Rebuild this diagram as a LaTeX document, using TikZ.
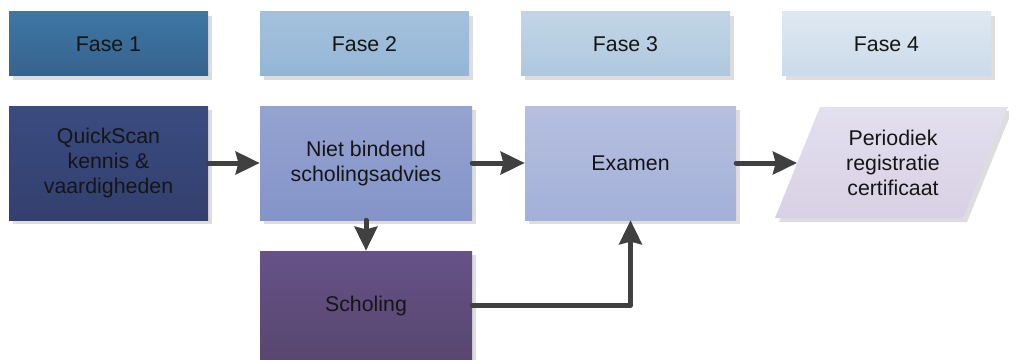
\documentclass[tikz,border=0pt]{standalone}
\usepackage{fontspec}
\setmainfont{Liberation Sans}
\usetikzlibrary{arrows.meta,shadows}
\definecolor{txt}{HTML}{151515}
\definecolor{arr}{HTML}{404040}
\definecolor{shd}{HTML}{DDDDDD}
\tikzset{
  box/.style={rectangle, inner sep=0pt, align=center, text=txt,
    font=\fontsize{16}{18.75}\selectfont,
    drop shadow={shadow xshift=3pt, shadow yshift=-3pt, fill=shd, opacity=1}},
  flow/.style={draw=arr, line width=3.75pt, line cap=round, line join=round,
    -{Stealth[length=18pt, width=17pt, inset=2pt]}},
}
\begin{document}
\begin{tikzpicture}[x=0.75pt, y=-0.75pt]
\useasboundingbox (0,0) rectangle (1009,360);
% phase headers
\node[box, minimum width=149.25pt, minimum height=48pt, top color={rgb,255:red,62;green,118;blue,165}, bottom color={rgb,255:red,54;green,99;blue,140}] (f1) at (108.5,44) {Fase 1};
\node[box, minimum width=156.75pt, minimum height=48pt, top color={rgb,255:red,164;green,193;blue,220}, bottom color={rgb,255:red,147;green,182;blue,214}] (f2) at (364.5,44) {Fase 2};
\node[box, minimum width=156.75pt, minimum height=48pt, top color={rgb,255:red,194;green,213;blue,230}, bottom color={rgb,255:red,174;green,200;blue,223}] (f3) at (625.5,44) {Fase 3};
\node[box, minimum width=156.75pt, minimum height=48pt, top color={rgb,255:red,223;green,232;blue,242}, bottom color={rgb,255:red,203;green,219;blue,233}] (f4) at (886.5,44) {Fase 4};
% process boxes
\node[box, minimum width=149.25pt, minimum height=85.5pt, top color={rgb,255:red,58;green,75;blue,128}, bottom color={rgb,255:red,51;green,64;blue,111}] (qs) at (108.5,163) {QuickScan\\kennis \&\\vaardigheden};
\node[box, minimum width=159pt, minimum height=85.5pt, top color={rgb,255:red,149;green,163;blue,209}, bottom color={rgb,255:red,132;green,148;blue,200}] (nb) at (366,163) {Niet bindend\\scholingsadvies};
\node[box, minimum width=158.25pt, minimum height=85.5pt, top color={rgb,255:red,182;green,191;blue,224}, bottom color={rgb,255:red,163;green,176;blue,216}] (ex) at (630.5,163) {Examen};
\node[box, minimum width=159pt, minimum height=81.75pt, top color={rgb,255:red,102;green,82;blue,135}, bottom color={rgb,255:red,88;green,70;blue,112}] (sc) at (366,305.5) {Scholing};
% parallelogram
\path[drop shadow={shadow xshift=3pt, shadow yshift=-3pt, fill=shd, opacity=1}, top color={rgb,255:red,227;green,224;blue,239}, bottom color={rgb,255:red,216;green,208;blue,228}]
  (820,107) -- (1008,107) -- (963,218) -- (775,218) -- cycle;
\node[align=center, text=txt, font=\fontsize{16}{18.75}\selectfont, inner sep=0pt] (pr) at (893,163) {Periodiek\\registratie\\certificaat};
\coordinate (prw) at (797,163);
% connectors
\draw[flow] (qs) -- (nb);
\draw[flow] (nb) -- (ex);
\draw[flow] (ex) -- (prw);
\draw[flow] (nb) -- (sc);
\draw[flow] (sc.east) -| (ex.south);
\end{tikzpicture}
\end{document}
